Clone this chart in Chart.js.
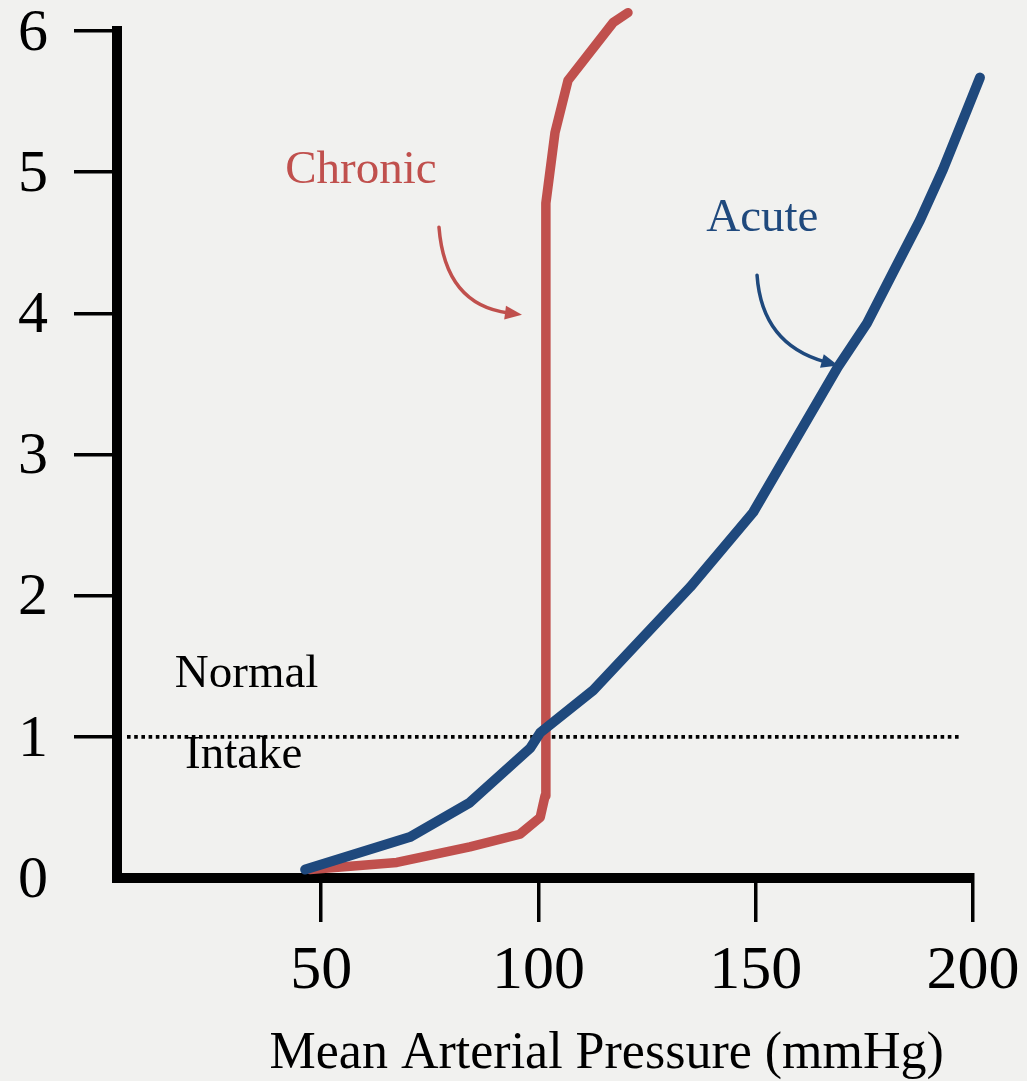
<!DOCTYPE html>
<html lang="en">
<head>
<meta charset="UTF-8">
<title>Acute and Chronic Pressure Natriuresis</title>
<style>
  body { margin: 0; background-color: #f1f1ef; }
  #wrap { width: 1027px; height: 1081px; }
</style>
</head>
<body>
<div id="wrap"><canvas id="chart" width="1027" height="1081"></canvas></div>
<script src="https://cdn.jsdelivr.net/npm/chart.js"></script>
<script>
// axis ticks
const xTicks = [50, 100, 150, 200];
const yTicks = [0, 1, 2, 3, 4, 5, 6];

// acute curve (mean arterial pressure, output x normal)
const acuteX = [46.3, 70.4, 84.0, 98.1, 100.4, 112.6, 134.9, 149.4, 168.9, 175.6, 181.6, 187.8, 193.1, 198.6, 201.6];
const acuteY = [0.06, 0.29, 0.53, 0.92, 1.03, 1.33, 2.06, 2.59, 3.62, 3.93, 4.29, 4.66, 5.02, 5.44, 5.67];

// chronic curve
const chronicX = [47.4, 67.4, 84.2, 95.7, 100.4, 101.5, 101.7, 103.8, 106.8, 117.2, 120.6];
const chronicY = [0.06, 0.11, 0.22, 0.31, 0.43, 0.58, 4.78, 5.28, 5.65, 6.06, 6.13];

// normal intake reference line
const normalX = [5.3, 197];
const normalY = [1, 1];

const serif = '"Liberation Serif", "Times New Roman", serif';

// text notes and arrows, positioned in data units
const notes = [
  { text: 'Chronic', x: 41.7, y: 4.92, color: '#c0504d' },
  { text: 'Acute', x: 138.6, y: 4.58, color: '#1f497d' },
  { text: 'Normal', x: 16.3, y: 1.35, color: '#000000' },
  { text: 'Intake', x: 18.65, y: 0.78, color: '#000000' }
];
const arrows = [
  { from: [77.1, 4.61], ctrl: [78.5, 4.06], to: [96.2, 3.99], color: '#c0504d' },
  { from: [150.3, 4.27], ctrl: [151.4, 3.78], to: [169.0, 3.63], color: '#1f497d' }
];

function toPoints(xs, ys) {
  return xs.map((v, i) => ({ x: v, y: ys[i] }));
}

const notesPlugin = {
  id: 'notes',
  afterDatasetsDraw(chart) {
    const { ctx, chartArea } = chart;
    const sx = chart.scales.x, sy = chart.scales.y;
    ctx.save();
    ctx.font = '47px ' + serif;
    ctx.textAlign = 'left';
    ctx.textBaseline = 'alphabetic';
    notes.forEach(n => {
      ctx.fillStyle = n.color;
      ctx.fillText(n.text, sx.getPixelForValue(n.x), sy.getPixelForValue(n.y));
    });

    arrows.forEach(a => {
      const x0 = sx.getPixelForValue(a.from[0]), y0 = sy.getPixelForValue(a.from[1]);
      const cx = sx.getPixelForValue(a.ctrl[0]), cy = sy.getPixelForValue(a.ctrl[1]);
      const x1 = sx.getPixelForValue(a.to[0]), y1 = sy.getPixelForValue(a.to[1]);
      const ang = Math.atan2(y1 - cy, x1 - cx);
      const head = 17;
      const bx = x1 - Math.cos(ang) * head * 0.8, by = y1 - Math.sin(ang) * head * 0.8;
      ctx.strokeStyle = a.color;
      ctx.fillStyle = a.color;
      ctx.lineWidth = 3.5;
      ctx.lineCap = 'round';
      ctx.beginPath();
      ctx.moveTo(x0, y0);
      ctx.quadraticCurveTo(cx, cy, bx, by);
      ctx.stroke();
      ctx.beginPath();
      ctx.moveTo(x1, y1);
      ctx.lineTo(x1 - Math.cos(ang) * head + Math.sin(ang) * 7, y1 - Math.sin(ang) * head - Math.cos(ang) * 7);
      ctx.lineTo(x1 - Math.cos(ang) * head - Math.sin(ang) * 7, y1 - Math.sin(ang) * head + Math.cos(ang) * 7);
      ctx.closePath();
      ctx.fill();
    });

    // x axis title
    ctx.fillStyle = '#000000';
    ctx.font = '52px ' + serif;
    ctx.textAlign = 'center';
    ctx.fillText('Mean Arterial Pressure (mmHg)', sx.getPixelForValue(115.7), chartArea.bottom + 190);
    ctx.restore();
  }
};

new Chart(document.getElementById('chart'), {
  type: 'line',
  data: {
    datasets: [
      {
        label: 'Acute',
        data: toPoints(acuteX, acuteY),
        borderColor: '#1f497d',
        borderWidth: 10,
        clip: false,
        order: 0
      },
      {
        label: 'Chronic',
        data: toPoints(chronicX, chronicY),
        borderColor: '#c0504d',
        borderWidth: 9.5,
        clip: false,
        order: 1
      },
      {
        label: 'Normal Intake',
        data: toPoints(normalX, normalY),
        borderColor: '#000000',
        borderWidth: 3.6,
        borderDash: [3.6, 3.6],
        borderCapStyle: 'butt',
        order: 2
      }
    ]
  },
  options: {
    responsive: false,
    animation: false,
    layout: { padding: { top: 31, right: 54, left: 0, bottom: 0 } },
    elements: {
      point: { radius: 0 },
      line: { tension: 0, borderCapStyle: 'round', borderJoinStyle: 'round' }
    },
    plugins: {
      legend: { display: false },
      tooltip: { enabled: false }
    },
    scales: {
      x: {
        type: 'linear',
        min: 3,
        max: 200,
        afterBuildTicks: s => { s.ticks = xTicks.map(v => ({ value: v })); },
        afterFit: s => { s.height = 203; s.paddingLeft = 0; s.paddingRight = 0; },
        grid: { drawOnChartArea: false, color: '#000000', lineWidth: 3.5, tickLength: 44 },
        border: { color: '#000000', width: 10 },
        ticks: {
          color: '#000000',
          font: { family: serif, size: 62 },
          padding: 13,
          autoSkip: false,
          maxRotation: 0
        }
      },
      y: {
        type: 'linear',
        min: 0,
        max: 6,
        afterBuildTicks: s => { s.ticks = yTicks.map(v => ({ value: v })); },
        afterFit: s => { s.width = 117; s.paddingTop = 0; s.paddingBottom = 0; },
        grid: {
          drawOnChartArea: false,
          color: c => (c.tick && c.tick.value === 0 ? 'rgba(0,0,0,0)' : '#000000'),
          lineWidth: 3.5,
          tickLength: 43
        },
        border: { color: '#000000', width: 10 },
        ticks: {
          color: '#000000',
          font: { family: serif, size: 60 },
          padding: 26,
          labelOffset: 3,
          crossAlign: 'center'
        }
      }
    }
  },
  plugins: [notesPlugin]
});
</script>
</body>
</html>
